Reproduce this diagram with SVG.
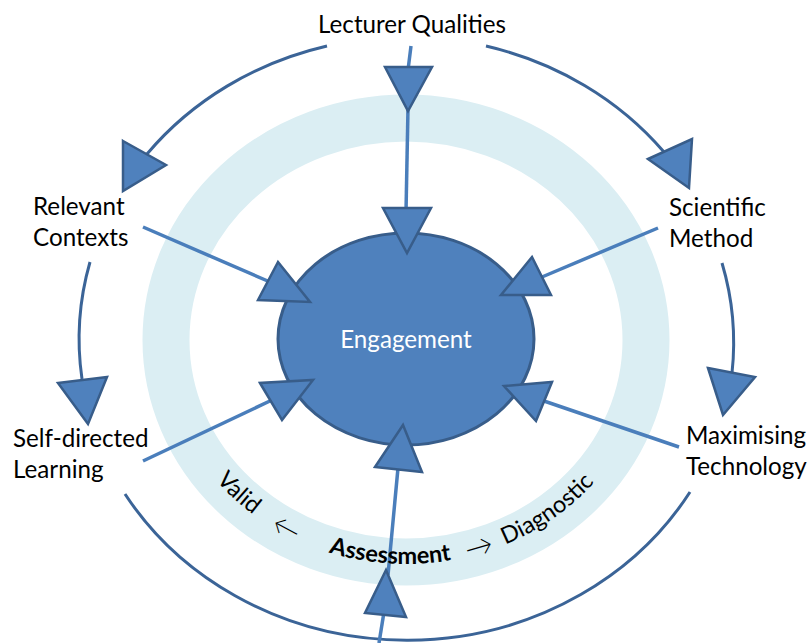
<svg xmlns="http://www.w3.org/2000/svg" width="808" height="643" viewBox="0 0 808 643">
  <style>
    .lbl { font-family: Lato, "Liberation Sans", sans-serif; font-size: 24.2px; fill: #000; }
    .ring { fill: none; stroke: #dbeef3; stroke-width: 47; }
    .arc { fill: none; stroke: #3b6497; stroke-width: 3; }
    .spoke { fill: none; stroke: #4a7ebb; stroke-width: 3.5; }
    .ah { fill: #4f81bd; stroke: #385d8a; stroke-width: 2.5; stroke-linejoin: miter; }
    .core { fill: #4f81bd; stroke: #385d8a; stroke-width: 3; }
    .curv { font-family: Lato, "Liberation Sans", sans-serif; font-size: 23.5px; fill: #000; }
    .arw { font-family: Lato, "Liberation Sans", sans-serif; font-size: 28px; font-weight: 300; fill: #000; }
  </style>
  <defs>
    <path id="ringPath" d="M 162 340 A 244 224 0 0 0 650 340"/>
  </defs>
  <rect width="808" height="643" fill="#fff"/>

  <g id="assessment-ring">
    <ellipse class="ring" cx="406" cy="340" rx="240" ry="222"/>
  </g>

  <g id="connectors">
    <path class="arc" d="M 327 46 A 329 302 0 0 0 147 154"/>
    <path class="arc" d="M 486 46 A 329 302 0 0 1 664 152"/>
    <path class="arc" d="M 90 262 A 329 302 0 0 0 82 379"/>
    <path class="arc" d="M 722 263 A 329 302 0 0 1 732 373"/>
    <path class="arc" d="M 125 494 A 329 302 0 0 0 690 492"/>
    <line class="spoke" x1="411" y1="46" x2="408" y2="70"/>
    <line class="spoke" x1="408" y1="108" x2="406" y2="212"/>
    <line class="spoke" x1="143" y1="227" x2="270" y2="282"/>
    <line class="spoke" x1="658" y1="228" x2="542" y2="277"/>
    <line class="spoke" x1="143" y1="461" x2="272" y2="400"/>
    <line class="spoke" x1="679" y1="447" x2="544" y2="401"/>
    <line class="spoke" x1="379" y1="643" x2="384" y2="612"/>
    <line class="spoke" x1="388" y1="575" x2="398" y2="468"/>
  </g>

  <g id="engagement">
    <ellipse class="core" cx="406" cy="339" rx="128" ry="106"/>
    <text class="lbl" x="406" y="348" text-anchor="middle" style="fill:#fff">Engagement</text>
  </g>

  <g id="arrowheads">
    <polygon class="ah" points="385,67 432,67 408,111"/>
    <polygon class="ah" points="383,208 431,208 407,253"/>
    <polygon class="ah" points="123,141 166,165 123,191"/>
    <polygon class="ah" points="648,159 692,139 689,188"/>
    <polygon class="ah" points="58,383 107,377 88,424"/>
    <polygon class="ah" points="708,368 755,377 723,415"/>
    <polygon class="ah" points="278,262 258,300 310,302"/>
    <polygon class="ah" points="532,257 551,295 501,295"/>
    <polygon class="ah" points="260,383 282,420 313,380"/>
    <polygon class="ah" points="552,382 536,421 504,386"/>
    <polygon class="ah" points="386,570 365,613 406,617"/>
    <polygon class="ah" points="403,425 375,467 422,472"/>
  </g>

  <g id="lecturer-qualities">
    <text class="lbl" x="412" y="33" text-anchor="middle">Lecturer Qualities</text>
  </g>
  <g id="relevant-contexts">
    <text class="lbl" x="33" y="215">Relevant</text>
    <text class="lbl" x="33" y="246">Contexts</text>
  </g>
  <g id="scientific-method">
    <text class="lbl" x="669" y="216">Scientific</text>
    <text class="lbl" x="669" y="247">Method</text>
  </g>
  <g id="self-directed-learning">
    <text class="lbl" x="13" y="447">Self-directed</text>
    <text class="lbl" x="13" y="478">Learning</text>
  </g>
  <g id="maximising-technology">
    <text class="lbl" x="686" y="444">Maximising</text>
    <text class="lbl" x="686" y="475">Technology</text>
  </g>

  <g id="assessment-labels">
    <text class="curv"><textPath href="#ringPath" startOffset="179" text-anchor="middle">Valid</textPath></text>
    <text class="arw" dy="3"><textPath href="#ringPath" startOffset="240" text-anchor="middle">←</textPath></text>
    <text class="curv" font-weight="bold"><textPath href="#ringPath" startOffset="351" text-anchor="middle">Assessment</textPath></text>
    <text class="arw" dy="3"><textPath href="#ringPath" startOffset="443" text-anchor="middle">→</textPath></text>
    <text class="curv"><textPath href="#ringPath" startOffset="524" text-anchor="middle">Diagnostic</textPath></text>
  </g>
</svg>
